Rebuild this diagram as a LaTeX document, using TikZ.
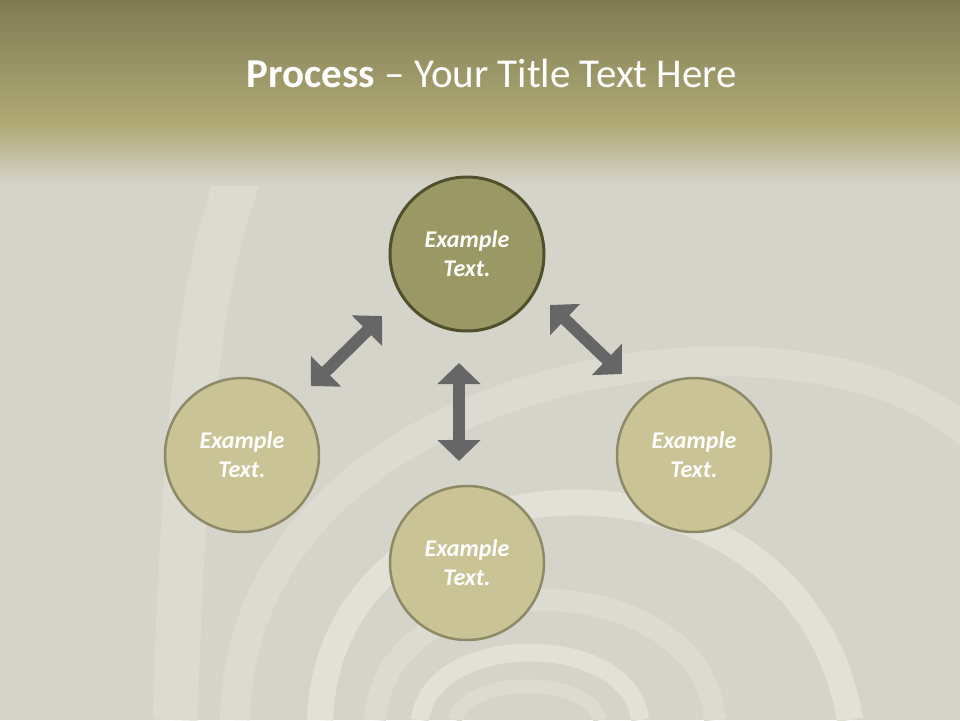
\documentclass[tikz,border=0pt]{standalone}
\usepackage{fontspec}
\setmainfont{Carlito}
\usetikzlibrary{arrows.meta}
\definecolor{wallgray}{RGB}{212,212,203}
\definecolor{archlight}{RGB}{219,219,210}
\definecolor{archpale}{RGB}{225,225,215}
\definecolor{headtop}{RGB}{127,124,84}
\definecolor{headlow}{RGB}{176,170,118}
\definecolor{olivedark}{RGB}{154,153,102}
\definecolor{rimdark}{RGB}{80,80,45}
\definecolor{olivelight}{RGB}{201,195,150}
\definecolor{rimlight}{RGB}{142,138,104}
\definecolor{arrowgray}{RGB}{102,102,102}
\begin{document}
\begin{tikzpicture}[x=1pt,y=-1pt,
	stepcircle/.style={circle,minimum size=154pt,line width=2.5pt,draw=rimlight,fill=olivelight,
		text=white,align=center,font=\fontsize{24}{29}\selectfont\bfseries\itshape},
	bigarrow/.style={line width=12pt,draw=arrowgray,
		{Triangle[width=42pt,length=21pt]}-{Triangle[width=42pt,length=21pt]}},
	arch/.style={archlight,line cap=butt}]
\useasboundingbox (0,0) rectangle (960,720);
\fill[wallgray] (0,0) rectangle (960,720);
\draw[arch,line width=45pt] (175,720) .. controls (185,420) and (200,260) .. (250,150);
\draw[arch,line width=30pt] (235,720) .. controls (240,360) and (820,280) .. (975,440);
\draw[arch,archpale,line width=26pt] (320,720) .. controls (330,440) and (800,420) .. (850,720);
\draw[arch,line width=22pt] (375,720) .. controls (385,560) and (700,560) .. (715,720);
\draw[arch,archpale,line width=18pt] (420,720) .. controls (430,630) and (630,630) .. (640,720);
\draw[arch,line width=14pt] (455,720) .. controls (465,675) and (590,675) .. (600,720);
\shade[top color=headtop,bottom color=headlow] (0,0) rectangle (960,125);
\shade[top color=headlow,bottom color=wallgray] (0,125) rectangle (960,185);
\node[anchor=base,text=white,font=\fontsize{41}{50}\selectfont] (title) at (492,87)
	{\textbf{Process} -- Your Title Text Here};
\node[stepcircle,fill=olivedark,draw=rimdark,line width=3pt] (top) at (467,254) {Example\\Text.};
\node[stepcircle] (left) at (242,455) {Example\\Text.};
\node[stepcircle] (right) at (694,455) {Example\\Text.};
\node[stepcircle] (bottom) at (467,563) {Example\\Text.};
\coordinate (la) at (311,386);
\coordinate (lb) at (382,316);
\coordinate (ra) at (550,305);
\coordinate (rb) at (622,374);
\coordinate (ma) at (459,363);
\coordinate (mb) at (459,461);
\draw[bigarrow] (la) -- (lb);
\draw[bigarrow] (ra) -- (rb);
\draw[bigarrow] (ma) -- (mb);
\end{tikzpicture}
\end{document}
